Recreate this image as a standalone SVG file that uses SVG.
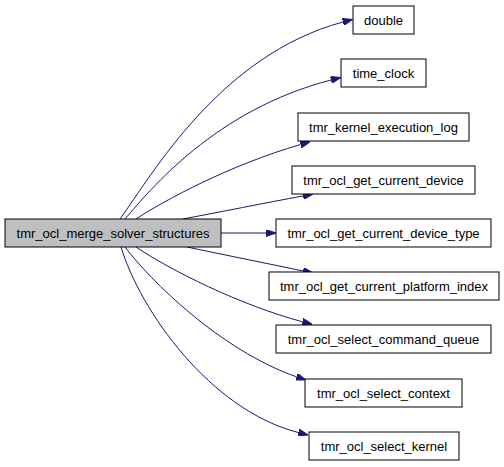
<svg xmlns="http://www.w3.org/2000/svg" width="504" height="467" viewBox="0 0 504 467">
<style>
.n rect{fill:#ffffff;stroke:#000000;stroke-width:1}
.n.main rect{fill:#bfbfbf}
.n text{font-family:"Liberation Sans",Arial,Helvetica,sans-serif;font-size:13px;text-anchor:middle;fill:#000000}
.e path{fill:none;stroke:#191970;stroke-width:1}
</style>
<defs>
<marker id="ah" viewBox="0 0 10 7" refX="0" refY="3.5" markerWidth="10" markerHeight="7" markerUnits="userSpaceOnUse" orient="auto">
<path d="M0,0 L10,3.5 L0,7 z" fill="#191970" stroke="#191970" stroke-width="1"/>
</marker>
</defs>
<rect width="504" height="467" fill="#ffffff"/>
<g id="edges" class="e">
<path d="M120,219 C152,175 220,55 343,22" marker-end="url(#ah)"/>
<path d="M125,219 C150,190 215,110 331,80" marker-end="url(#ah)"/>
<path d="M136,219 C165,200 230,165 300.6,144.5" marker-end="url(#ah)"/>
<path d="M183,219 C220,212 265,203 303.2,195.9" marker-end="url(#ah)"/>
<path d="M221,233 L266,233" marker-end="url(#ah)"/>
<path d="M187,247 C225,255 265,263 303.2,271" marker-end="url(#ah)"/>
<path d="M136,247 C170,270 240,305 302.5,321.8" marker-end="url(#ah)"/>
<path d="M125,247 C150,280 220,350 296.5,376.8" marker-end="url(#ah)"/>
<path d="M121,247 C140,310 210,410 298.3,432.5" marker-end="url(#ah)"/>
</g>
<g id="node_main" class="n main"><rect x="5" y="219" width="216" height="28"/><text x="113" y="237.5">tmr_ocl_merge_solver_structures</text></g>
<g id="node_double" class="n"><rect x="353" y="6" width="61" height="28"/><text x="383.5" y="24.5">double</text></g>
<g id="node_time_clock" class="n"><rect x="341" y="59" width="85" height="28"/><text x="383.5" y="77.5">time_clock</text></g>
<g id="node_kernel_log" class="n"><rect x="298" y="113" width="171" height="28"/><text x="383.5" y="131.5">tmr_kernel_execution_log</text></g>
<g id="node_get_device" class="n"><rect x="292" y="166" width="183" height="28"/><text x="383.5" y="184.5">tmr_ocl_get_current_device</text></g>
<g id="node_get_device_type" class="n"><rect x="276" y="219" width="215" height="28"/><text x="383.5" y="237.5">tmr_ocl_get_current_device_type</text></g>
<g id="node_get_platform" class="n"><rect x="269" y="272" width="230" height="28"/><text x="384" y="290.5">tmr_ocl_get_current_platform_index</text></g>
<g id="node_cmd_queue" class="n"><rect x="276" y="325" width="215" height="28"/><text x="383.5" y="343.5">tmr_ocl_select_command_queue</text></g>
<g id="node_context" class="n"><rect x="305" y="379" width="157" height="28"/><text x="383.5" y="397.5">tmr_ocl_select_context</text></g>
<g id="node_kernel" class="n"><rect x="309" y="432" width="150" height="28"/><text x="384" y="450.5">tmr_ocl_select_kernel</text></g>
</svg>
